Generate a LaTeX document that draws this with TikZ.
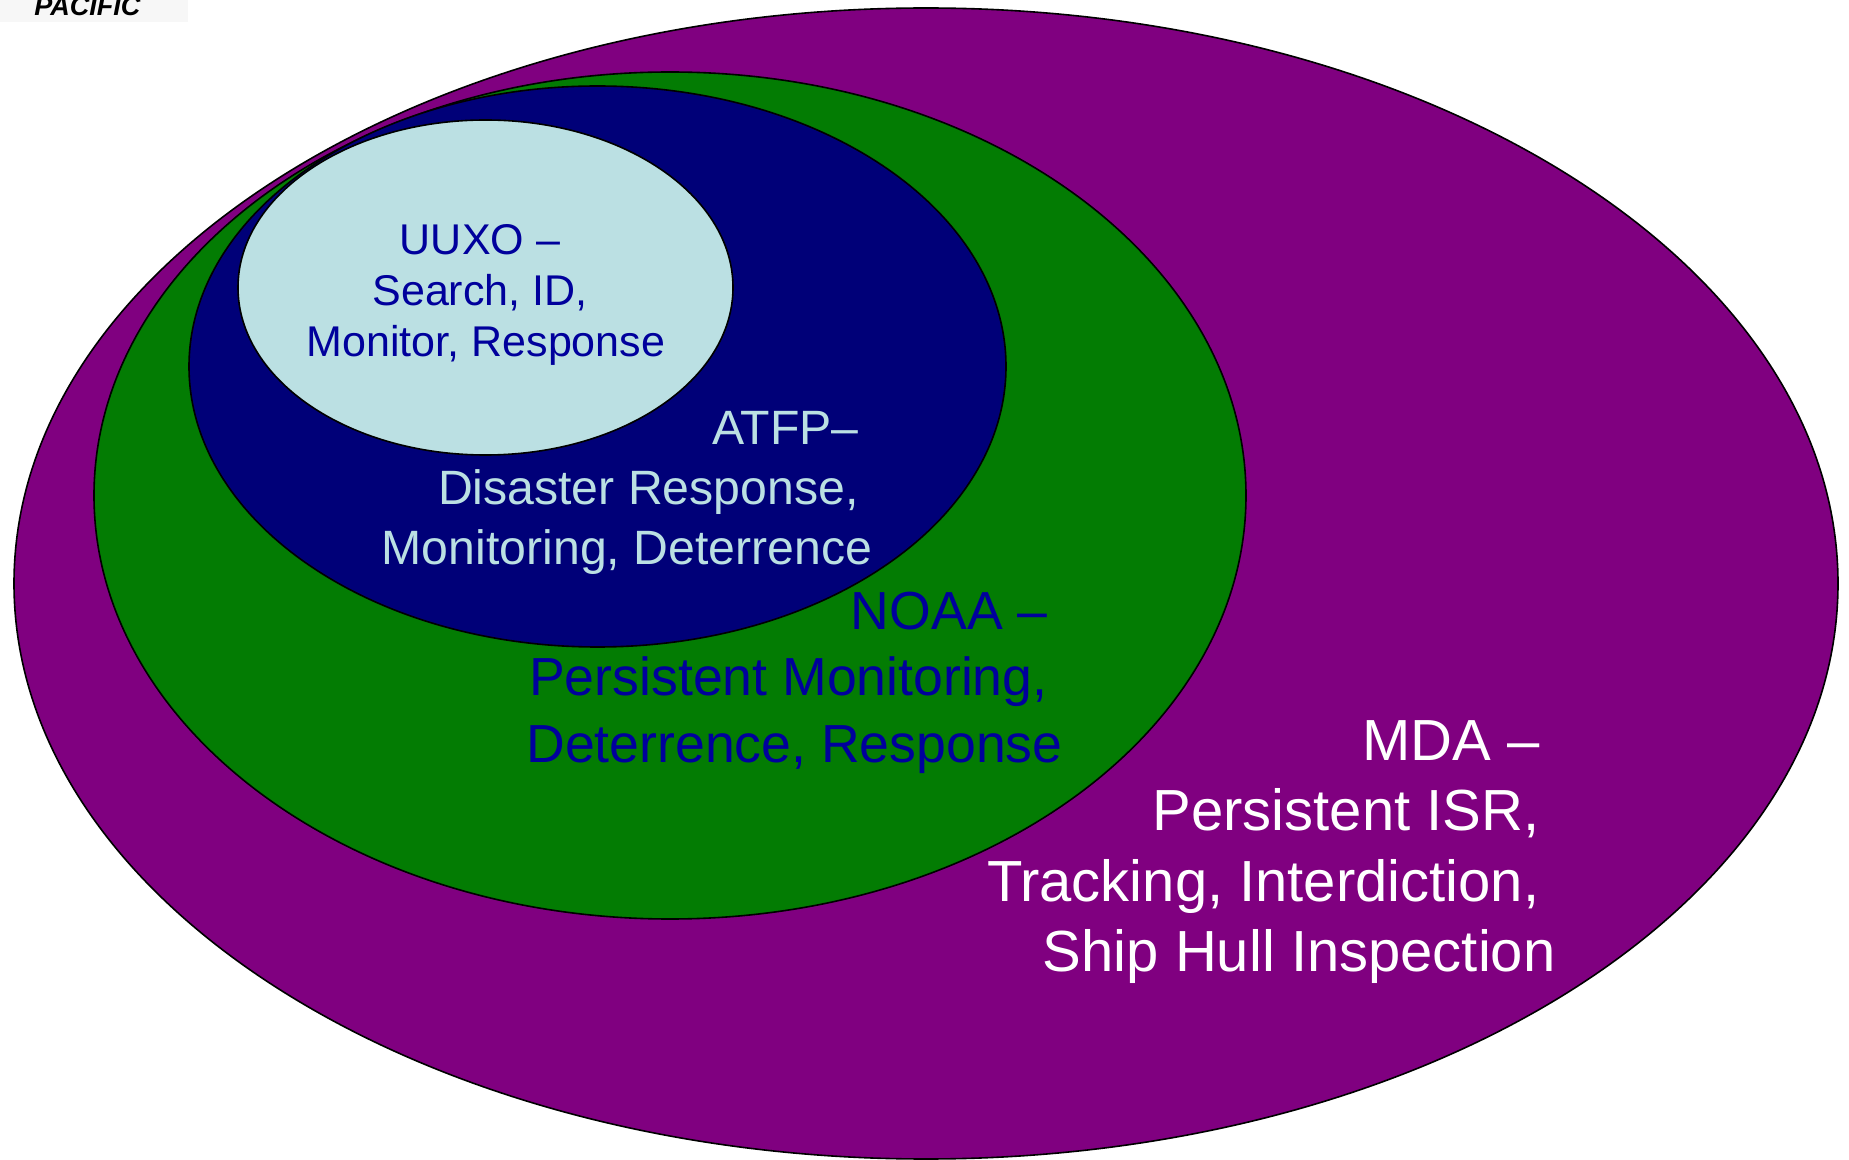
\documentclass[tikz,border=0pt]{standalone}
\usepackage{fontspec}
\setmainfont{Liberation Sans}
\usetikzlibrary{shapes.geometric}

\definecolor{mdapurple}{HTML}{800080}
\definecolor{noaagreen}{HTML}{037C03}
\definecolor{atfpnavy}{HTML}{000078}
\definecolor{uuxoblue}{HTML}{BBE0E3}
\definecolor{labelblue}{HTML}{00009C}

% trailing space kept at the end of a line
\newcommand{\tsp}{\rule{.28em}{0pt}}

\begin{document}
\begin{tikzpicture}[
    x=0.5pt, y=-0.5pt,
    ring/.style={draw, ellipse, inner sep=0pt, line width=0.8pt},
    tag/.style={inner sep=0pt, align=right, anchor=north east}
]
\useasboundingbox (0,0) rectangle (1849,1160);

% Ellipses
\node[ring, fill=mdapurple, minimum width=912pt, minimum height=575.5pt] (mda) at (926,583.5) {};
\node[ring, fill=noaagreen, minimum width=576pt, minimum height=423.5pt] (noaa) at (670,495.5) {};
\node[ring, fill=atfpnavy, minimum width=408.5pt, minimum height=280.5pt] (atfp) at (597.5,366.5) {};
\node[ring, fill=uuxoblue, minimum width=247.5pt, minimum height=167.5pt] (uuxo) at (485.5,287.5) {};

% Labels
\node[inner sep=0pt, align=center, anchor=north, text=labelblue, font=\fontsize{21.5}{25.6}\selectfont] (uuxotext) at (486,224) {UUXO –\tsp\\ Search, ID,\tsp\\ Monitor, Response};
\node[tag, text=uuxoblue, font=\fontsize{24.1}{30}\selectfont] (atfptext) at (872.5,411) {ATFP–\tsp\\ Disaster Response,\tsp\\ Monitoring, Deterrence};
\node[tag, text=labelblue, font=\fontsize{26.8}{33.3}\selectfont] (noaatext) at (1063,591.5) {NOAA –\tsp\\ Persistent Monitoring,\tsp\\ Deterrence, Response};
\node[tag, text=white, font=\fontsize{29}{35.2}\selectfont] (mdatext) at (1556,720) {MDA –\tsp\\ Persistent ISR,\tsp\\ Tracking, Interdiction,\tsp\\ Ship Hull Inspection};

% Corner logo text
\fill[black!3] (0,0) rectangle (188,22);
\node[anchor=base west, inner sep=0pt, font=\fontsize{13.5}{15}\bfseries\itshape\selectfont] (pacific) at (34,16) {PACIFIC};

\end{tikzpicture}
\end{document}
